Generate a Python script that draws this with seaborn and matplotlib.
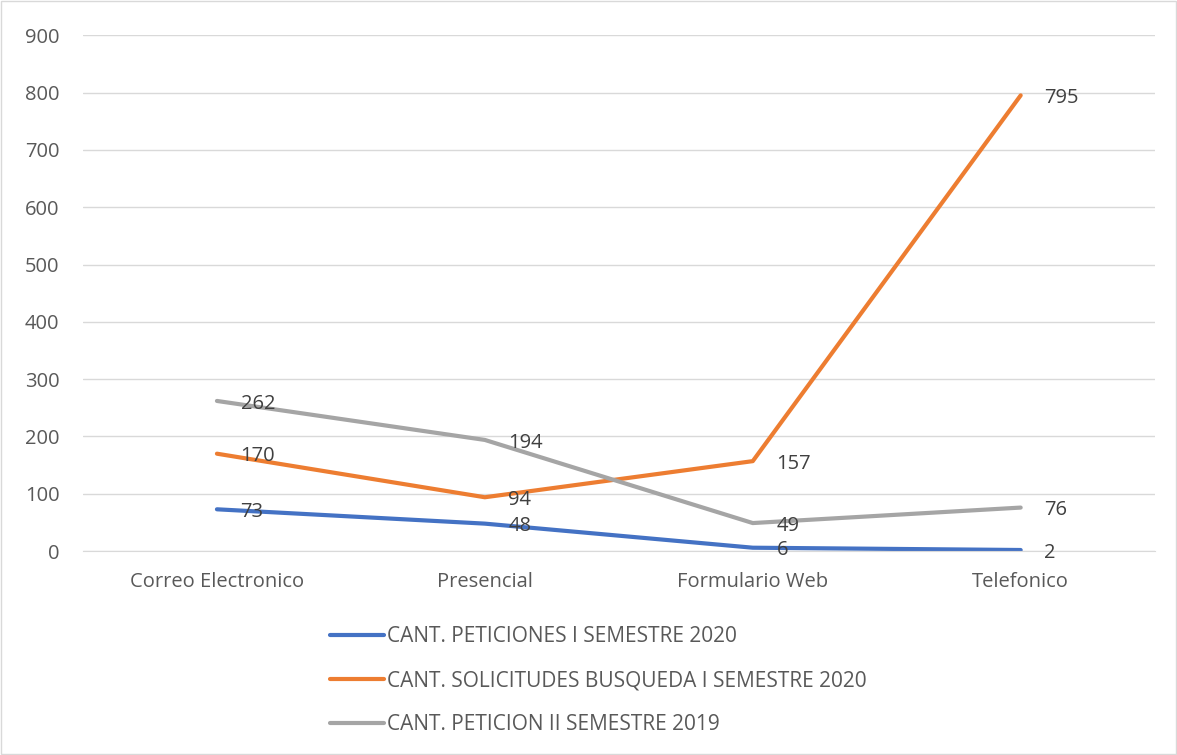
import pandas as pd
import matplotlib
matplotlib.use('Agg')
import matplotlib.pyplot as plt
import seaborn as sns

# chart data
canales = ['Correo Electronico', 'Presencial', 'Formulario Web', 'Telefonico']
peticiones_2020 = [73, 48, 6, 2]
solicitudes_2020 = [170, 94, 157, 795]
peticion_2019 = [262, 194, 49, 76]
series_names = ['CANT. PETICIONES I SEMESTRE 2020',
                'CANT. SOLICITUDES BUSQUEDA I SEMESTRE 2020',
                'CANT. PETICION II SEMESTRE 2019']
colors = ['#4472C4', '#ED7D31', '#A5A5A5']
y_ticks = [0, 100, 200, 300, 400, 500, 600, 700, 800, 900]

rows = []
for name, vals in zip(series_names, [peticiones_2020, solicitudes_2020, peticion_2019]):
    for i, (c, v) in enumerate(zip(canales, vals)):
        rows.append({'serie': name, 'canal': c, 'pos': i, 'valor': v})
df = pd.DataFrame(rows)

sns.set_style('white')
plt.rcParams['font.family'] = ['Open Sans', 'DejaVu Sans']
FS = 14.5

fig = plt.figure(figsize=(11.77, 7.55), dpi=100)
ax = fig.add_axes([0.0705, 0.270, 0.9105, 0.6834])

sns.lineplot(data=df, x='pos', y='valor', hue='serie', hue_order=series_names,
             palette=colors, linewidth=3.0, ax=ax, legend=False, sort=False)

# data labels to the right of each point
for name, vals in zip(series_names, [peticiones_2020, solicitudes_2020, peticion_2019]):
    for i, v in enumerate(vals):
        ax.annotate(str(v), (i, v), xytext=(17, -2), textcoords='offset points',
                    ha='left', va='center', fontsize=FS, color='#404040')

ax.set_xlim(-0.5, 3.5)
ax.set_ylim(0, 900)
ax.set_yticks(y_ticks)
ax.set_xticks(range(len(canales)))
ax.set_xticklabels(canales)
ax.tick_params(axis='both', length=0, labelsize=FS, labelcolor='#595959')
ax.tick_params(axis='x', pad=15)
ax.tick_params(axis='y', pad=17)
ax.yaxis.grid(True, color='#D9D9D9', linewidth=1)
ax.set_axisbelow(True)
for s in ['top', 'right', 'left']:
    ax.spines[s].set_visible(False)
ax.spines['bottom'].set_color('#D9D9D9')
ax.set_xlabel('')
ax.set_ylabel('')

handles = [plt.Line2D([0], [0], color=c, linewidth=3.0) for c in colors]
fig.legend(handles, series_names, loc='upper left', bbox_to_anchor=(0.2804, 0.171),
           frameon=False, fontsize=15, labelcolor='#595959', handlelength=2.6,
           handletextpad=0.15, labelspacing=1.11, borderpad=0, borderaxespad=0)

# outer frame
fig.patches.append(plt.Rectangle((0.001, 0.001), 0.998, 0.998, transform=fig.transFigure,
                                 fill=False, edgecolor='#D9D9D9', linewidth=1))

fig.savefig('out.png', dpi=100)
